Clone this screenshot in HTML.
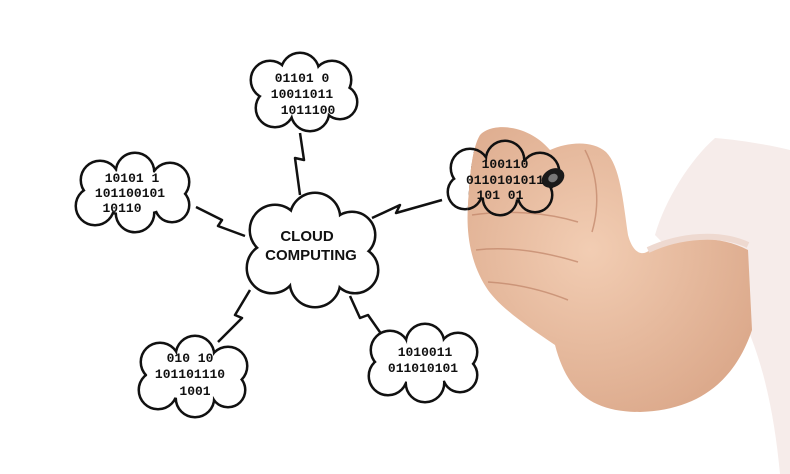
<!DOCTYPE html>
<html><head><meta charset="utf-8"><style>
html,body{margin:0;padding:0;background:#fff;width:790px;height:474px;overflow:hidden}
text{font-family:"Liberation Mono",monospace;font-weight:bold;fill:#111}
</style></head><body>
<svg width="790" height="474" viewBox="0 0 790 474" xmlns="http://www.w3.org/2000/svg">
<defs>
<radialGradient id="sk" gradientUnits="userSpaceOnUse" cx="590" cy="250" r="190">
<stop offset="0" stop-color="#f2cdb3"/><stop offset="1" stop-color="#dba88a"/>
</radialGradient>
<clipPath id="hc"><path id="hp" d="M480,135 C492,122 528,124 550,150 C568,142 592,140 606,152 C620,166 623,200 628,235 C632,250 640,258 650,250 C680,235 720,235 748,250 L752,330 C735,380 700,410 640,412 C595,412 568,395 555,345 C525,325 497,305 486,287 C470,262 466,232 468,205 C470,175 472,148 480,135 Z"/></clipPath>
<g id="rc"><circle cx="470" cy="168" r="18"/><circle cx="505" cy="160" r="18"/><circle cx="540" cy="172" r="18"/><circle cx="535" cy="195" r="16"/><circle cx="500" cy="198" r="16"/><circle cx="465" cy="192" r="16"/><ellipse cx="505" cy="180" rx="45" ry="20"/></g>
</defs>
<!-- sleeve -->
<path d="M655,235 C665,200 690,160 715,138 C740,140 770,145 790,150 L790,474 L780,474 C775,420 765,370 748,330 Z" fill="#f6ecea"/>
<g fill="none" stroke="#111" stroke-width="2.5" stroke-linejoin="round">
<polyline points="300,133 304,160 295,158 300,195"/>
<polyline points="196,207 222,220 218,226 245,236"/>
<polyline points="372,218 400,205 396,213 442,200"/>
<polyline points="250,290 235,315 242,318 218,342"/>
<polyline points="350,296 360,318 368,315 382,335"/>
</g>
<g fill="none" stroke="#111" stroke-width="5">
<g><circle cx="270" cy="80" r="18"/><circle cx="300" cy="72" r="18"/><circle cx="332" cy="80" r="18"/><circle cx="340" cy="102" r="16"/><circle cx="310" cy="112" r="18"/><circle cx="275" cy="108" r="18"/><ellipse cx="302" cy="92" rx="40" ry="22"/></g>
<g><circle cx="100" cy="180" r="18"/><circle cx="135" cy="172" r="18"/><circle cx="170" cy="182" r="18"/><circle cx="172" cy="205" r="16"/><circle cx="135" cy="213" r="18"/><circle cx="95" cy="206" r="18"/><ellipse cx="133" cy="192" rx="45" ry="22"/></g>
<g><circle cx="275" cy="230" r="24"/><circle cx="315" cy="218" r="24"/><circle cx="352" cy="235" r="22"/><circle cx="355" cy="270" r="22"/><circle cx="315" cy="282" r="24"/><circle cx="272" cy="268" r="24"/><ellipse cx="312" cy="252" rx="45" ry="30"/></g>
<use href="#rc"/>
<g><circle cx="160" cy="362" r="18"/><circle cx="195" cy="355" r="18"/><circle cx="228" cy="366" r="18"/><circle cx="228" cy="390" r="16"/><circle cx="195" cy="398" r="18"/><circle cx="158" cy="390" r="18"/><ellipse cx="192" cy="377" rx="45" ry="22"/></g>
<g><circle cx="390" cy="350" r="18"/><circle cx="425" cy="343" r="18"/><circle cx="458" cy="352" r="18"/><circle cx="460" cy="375" r="16"/><circle cx="425" cy="383" r="18"/><circle cx="388" cy="376" r="18"/><ellipse cx="423" cy="363" rx="45" ry="20"/></g>
</g>
<g fill="#fff">
<g><circle cx="270" cy="80" r="18"/><circle cx="300" cy="72" r="18"/><circle cx="332" cy="80" r="18"/><circle cx="340" cy="102" r="16"/><circle cx="310" cy="112" r="18"/><circle cx="275" cy="108" r="18"/><ellipse cx="302" cy="92" rx="40" ry="22"/></g>
<g><circle cx="100" cy="180" r="18"/><circle cx="135" cy="172" r="18"/><circle cx="170" cy="182" r="18"/><circle cx="172" cy="205" r="16"/><circle cx="135" cy="213" r="18"/><circle cx="95" cy="206" r="18"/><ellipse cx="133" cy="192" rx="45" ry="22"/></g>
<g><circle cx="275" cy="230" r="24"/><circle cx="315" cy="218" r="24"/><circle cx="352" cy="235" r="22"/><circle cx="355" cy="270" r="22"/><circle cx="315" cy="282" r="24"/><circle cx="272" cy="268" r="24"/><ellipse cx="312" cy="252" rx="45" ry="30"/></g>
<use href="#rc"/>
<g><circle cx="160" cy="362" r="18"/><circle cx="195" cy="355" r="18"/><circle cx="228" cy="366" r="18"/><circle cx="228" cy="390" r="16"/><circle cx="195" cy="398" r="18"/><circle cx="158" cy="390" r="18"/><ellipse cx="192" cy="377" rx="45" ry="22"/></g>
<g><circle cx="390" cy="350" r="18"/><circle cx="425" cy="343" r="18"/><circle cx="458" cy="352" r="18"/><circle cx="460" cy="375" r="16"/><circle cx="425" cy="383" r="18"/><circle cx="388" cy="376" r="18"/><ellipse cx="423" cy="363" rx="45" ry="20"/></g>
</g>
<!-- hand -->
<use href="#hp" fill="url(#sk)"/>
<path d="M648,250 C680,235 720,232 748,245" fill="none" stroke="#eed9d0" stroke-width="6"/>
<g fill="none" stroke="#c08468" stroke-width="1.5" opacity="0.7">
<path d="M472,215 C505,210 545,212 578,222"/><path d="M476,250 C510,246 545,252 578,262"/><path d="M488,282 C520,284 548,292 568,300"/><path d="M585,150 C598,175 600,205 592,232"/>
</g>
<!-- cloud outline over hand -->
<g clip-path="url(#hc)">
<use href="#rc" fill="none" stroke="#111" stroke-width="5"/>
<use href="#rc" fill="url(#sk)"/>
</g>
<ellipse cx="553" cy="178" rx="12" ry="9" fill="#1a1a1a" transform="rotate(-30 553 178)"/>
<ellipse cx="553" cy="178" rx="5" ry="4" fill="#777" transform="rotate(-30 553 178)"/>
<g font-size="13" text-anchor="middle">
<text x="302" y="82">01101 0</text><text x="302" y="98">10011011</text><text x="308" y="114">1011100</text>
<text x="132" y="182">10101 1</text><text x="130" y="197">101100101</text><text x="122" y="212">10110</text>
<text x="505" y="168">100110</text><text x="505" y="184">0110101011</text><text x="500" y="199">101 01</text>
<text x="190" y="362">010 10</text><text x="190" y="378">101101110</text><text x="195" y="395">1001</text>
<text x="425" y="356">1010011</text><text x="423" y="372">011010101</text>
</g>
<text x="307" y="241" font-size="15" text-anchor="middle" style="font-family:'Liberation Sans',sans-serif">CLOUD</text>
<text x="311" y="260" font-size="15" text-anchor="middle" style="font-family:'Liberation Sans',sans-serif">COMPUTING</text>
</svg>
</body></html>
